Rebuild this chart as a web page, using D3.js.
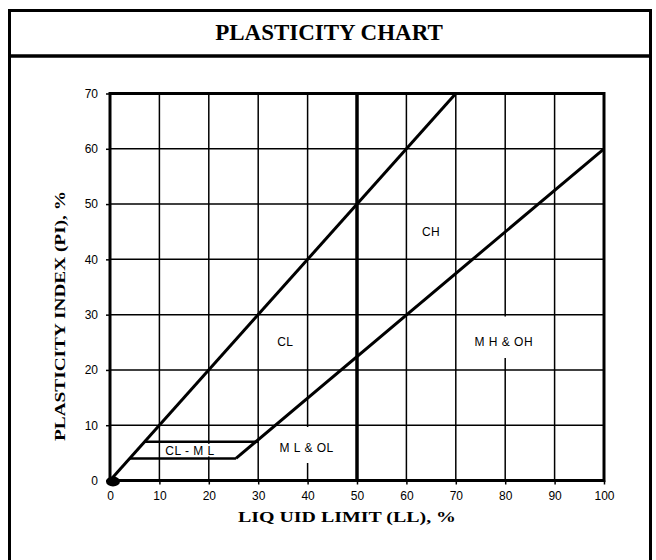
<!DOCTYPE html>
<html><head><meta charset="utf-8">
<script src="https://cdn.jsdelivr.net/npm/d3@7"></script>
<style>body{margin:0;background:#fff}svg{display:block}</style>
</head><body>
<script>
const title = "PLASTICITY CHART";
const xTitle = "LIQ UID LIMIT (LL), %";
const yTitle = "PLASTICITY INDEX (PI), %";
const xTicks = [0,10,20,30,40,50,60,70,80,90,100];
const yTicks = [0,10,20,30,40,50,60,70];
// U-line style line (PI = LL) and A-line
const lineLL = [0,70];
const linePI = [0,70];
const aLineLL = [25.5,100];
const aLinePI = [4,60];
// CL-ML band
const bandLL = [4,25.5];
const bandPI = [4,4];
const band2LL = [7,30];
const band2PI = [7,7];
const vLineLL = [50,50];
const vLinePI = [0,70];
const zoneNames = ["CL","CH","M H & OH","M L & OL","CL - M L"];
const zoneLL = [35.5,65,79.7,39.8,16.2];
const zonePI = [25,45,25,6,5.3];

const W=656,H=560;
const svg=d3.select("body").append("svg").attr("width",W).attr("height",H);
const x=d3.scaleLinear().domain([0,100]).range([110,604]);
const y=d3.scaleLinear().domain([0,70]).range([480.5,93.5]);

// frame
svg.append("rect").attr("x",9.5).attr("y",10.5).attr("width",641).attr("height",560).attr("fill","none").attr("stroke","#000").attr("stroke-width",3);
svg.append("line").attr("x1",9).attr("x2",651).attr("y1",56).attr("y2",56).attr("stroke","#000").attr("stroke-width",3.5);
svg.append("text").attr("x",329).attr("y",40).attr("text-anchor","middle")
  .attr("font-family","Liberation Serif").attr("font-weight","bold").attr("font-size",23).text(title);

// grid
const g=svg.append("g");
g.selectAll(".vg").data(xTicks).join("line").attr("x1",d=>x(d)).attr("x2",d=>x(d)).attr("y1",y(0)).attr("y2",y(70)).attr("stroke","#000").attr("stroke-width",1.5);
g.selectAll(".hg").data(yTicks).join("line").attr("x1",x(0)).attr("x2",x(100)).attr("y1",d=>y(d)).attr("y2",d=>y(d)).attr("stroke","#000").attr("stroke-width",1.5);

// axes
const xa=svg.append("g").attr("transform",`translate(0,${y(0)})`).call(d3.axisBottom(x).tickValues(xTicks).tickSize(4).tickPadding(7));
const ya=svg.append("g").attr("transform",`translate(${x(0)},0)`).call(d3.axisLeft(y).tickValues(yTicks).tickSize(4).tickPadding(8));
[xa,ya].forEach(a=>{a.select(".domain").remove();a.selectAll("line").attr("stroke","#000").attr("stroke-width",1.5);
  a.selectAll("text").attr("font-family","Liberation Sans").attr("font-size",12).attr("fill","#000");});

// plot border
svg.append("rect").attr("x",x(0)).attr("y",y(70)).attr("width",x(100)-x(0)).attr("height",y(0)-y(70)).attr("fill","none").attr("stroke","#000").attr("stroke-width",3);

const line=d3.line().x(d=>x(d[0])).y(d=>y(d[1]));
function draw(ll,pi,w){svg.append("path").attr("d",line(ll.map((v,i)=>[v,pi[i]]))).attr("fill","none").attr("stroke","#000").attr("stroke-width",w);}
draw(vLineLL,vLinePI,3.5);
draw(lineLL,linePI,3);
draw(aLineLL,aLinePI,3);
draw(bandLL,bandPI,2.5);
draw(band2LL,band2PI,2.5);

// zone labels with white background
const zl=svg.append("g");
zoneNames.forEach((n,i)=>{
  zl.append("text").attr("x",x(zoneLL[i])).attr("y",y(zonePI[i])).attr("dy","0.35em").attr("text-anchor","middle")
    .attr("font-family","Liberation Sans").attr("font-size",12).attr("letter-spacing",0.5).text(n);
});
const boxes=[[3,427,463],[2,316.5,358],[4,y(7)+2,y(4)-2]];
boxes.forEach(b=>{
  const i=b[0]; const tb=zl.selectAll("text").nodes()[i].getBBox();
  zl.insert("rect","text").attr("x",tb.x-1).attr("y",b[1]).attr("width",tb.width+2).attr("height",b[2]-b[1]).attr("fill","#fff");
});

// origin marker
svg.append("ellipse").attr("cx",x(0)+3).attr("cy",y(0)+1).attr("rx",7).attr("ry",5).attr("fill","#000");

// axis titles
svg.append("text").attr("x",347).attr("y",522).attr("text-anchor","middle").attr("font-family","Liberation Serif").attr("font-weight","bold").attr("font-size",15)
  .attr("textLength",218).attr("lengthAdjust","spacingAndGlyphs").text(xTitle);
svg.append("text").attr("transform","translate(65,316) rotate(-90)").attr("text-anchor","middle").attr("font-family","Liberation Serif").attr("font-weight","bold").attr("font-size",15)
  .attr("textLength",250).attr("lengthAdjust","spacingAndGlyphs").text(yTitle);
</script>
</body></html>
